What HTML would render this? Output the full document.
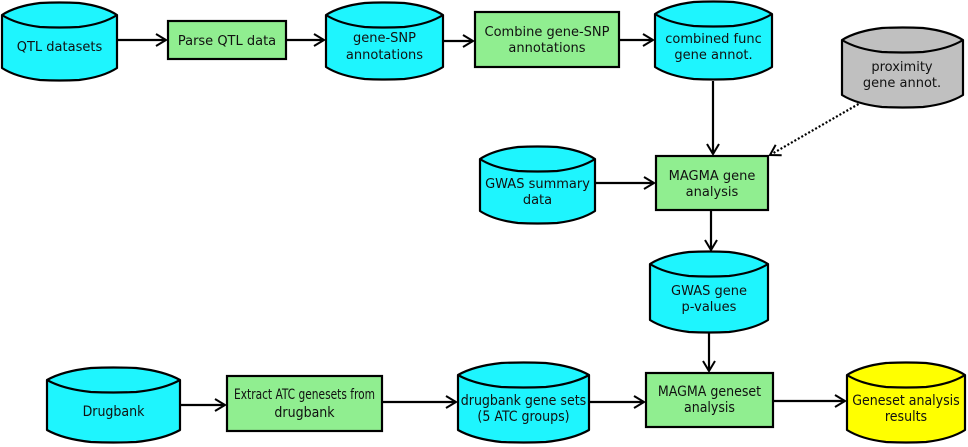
<!DOCTYPE html>
<html><head><meta charset="utf-8"><style>
html,body{margin:0;padding:0;background:#fff;width:968px;height:447px;overflow:hidden}
text{font-family:"DejaVu Sans","Liberation Sans",sans-serif;font-size:13px;fill:#111;text-anchor:middle}
.c text{font-stretch:condensed;font-family:"DejaVu Sans Condensed","DejaVu Sans",sans-serif;font-size:14px}
.cy{fill:#1ef5fe;stroke:#000;stroke-width:2.2;stroke-linejoin:round}
.bx{fill:#90ee90;stroke:#000;stroke-width:2.2}
.ln{stroke:#000;stroke-width:2.2;fill:none;stroke-linejoin:round}
</style></head><body>
<svg id="s" width="968" height="447" viewBox="0 0 968 447" xmlns="http://www.w3.org/2000/svg">
<defs><marker id="a" markerWidth="14" markerHeight="14" refX="11" refY="7" orient="auto" markerUnits="userSpaceOnUse"><path d="M1,1 L11,7 L1,13" fill="none" stroke="#000" stroke-width="2"/></marker></defs>
<g class="ln">
<line x1="117" y1="40" x2="166" y2="40" marker-end="url(#a)"/>
<line x1="286" y1="40" x2="324" y2="40" marker-end="url(#a)"/>
<line x1="443" y1="41" x2="473" y2="41" marker-end="url(#a)"/>
<line x1="619" y1="40" x2="653" y2="40" marker-end="url(#a)"/>
<line x1="713" y1="81" x2="713" y2="154" marker-end="url(#a)"/>
<line x1="862" y1="102" x2="770" y2="155" stroke-dasharray="2,2" marker-end="url(#a)"/>
<line x1="595" y1="183" x2="654" y2="183" marker-end="url(#a)"/>
<line x1="711" y1="210" x2="711" y2="250" marker-end="url(#a)"/>
<line x1="709" y1="332" x2="709" y2="371" marker-end="url(#a)"/>
<line x1="180" y1="405" x2="225" y2="405" marker-end="url(#a)"/>
<line x1="382" y1="402" x2="456" y2="402" marker-end="url(#a)"/>
<line x1="589" y1="402" x2="644" y2="402" marker-end="url(#a)"/>
<line x1="773" y1="401" x2="845" y2="401" marker-end="url(#a)"/>
</g>
<g id="cyls"></g>
<g id="t">
<text x="59.5" y="51">QTL datasets</text>
<rect class="bx" x="168" y="21" width="118" height="38"/>
<text x="227" y="45">Parse QTL data</text>
<text x="384.5" y="42">gene-SNP</text><text x="384.5" y="59">annotations</text>
<rect class="bx" x="475" y="12" width="144" height="55"/>
<text x="547" y="36">Combine gene-SNP</text><text x="547" y="52">annotations</text>
<text x="713.5" y="43">combined func</text><text x="713.5" y="59">gene annot.</text>
<text x="902" y="71">proximity</text><text x="902" y="87">gene annot.</text>
<text x="537.5" y="188">GWAS summary</text><text x="537.5" y="204">data</text>
<rect class="bx" x="656" y="156" width="112" height="54"/>
<text x="712" y="180">MAGMA gene</text><text x="712" y="196">analysis</text>
<text x="709" y="295">GWAS gene</text><text x="709" y="311">p-values</text>
<g class="c">
<text x="113.5" y="416">Drugbank</text>
<rect class="bx" x="227" y="376" width="155" height="55"/>
<text x="304.5" y="399" textLength="141" lengthAdjust="spacingAndGlyphs">Extract ATC genesets from</text><text x="304.5" y="417">drugbank</text>
<text x="523.5" y="405">drugbank gene sets</text><text x="523.5" y="421">(5 ATC groups)</text>
<rect class="bx" x="646" y="373" width="127" height="54"/>
<text x="709.5" y="396">MAGMA geneset</text><text x="709.5" y="412">analysis</text>
<text x="906" y="405">Geneset analysis</text><text x="906" y="421">results</text>
</g>
</g>
</svg>
<script>
var C=[[2,3,117,80,"#1ef5fe"],[326,3,443,79,"#1ef5fe"],[655,2,772,79,"#1ef5fe"],[842,28,963,107,"#c0c0c0"],[480,147,595,223,"#1ef5fe"],[650,252,768,332,"#1ef5fe"],[47,368,180,442,"#1ef5fe"],[458,363,589,442,"#1ef5fe"],[847,363,965,442,"#ffff00"]];
var g=document.getElementById("cyls"),h="";
function cap(x0,x1,y,d){var w=x1-x0,a=x0+w*0.33,b=x1-w*0.33;
return "M"+x0+","+y+" Q"+(x0+w*0.12)+","+(y+d*0.75)+" "+a+","+(y+d)+" Q"+((x0+x1)/2)+","+(y+d*1.08)+" "+b+","+(y+d)+" Q"+(x1-w*0.12)+","+(y+d*0.75)+" "+x1+","+y;}
C.forEach(function(c){var x0=c[0],y0=c[1],x1=c[2],y1=c[3],k=12,w=x1-x0,a=x0+w*0.33,b=x1-w*0.33;
var top="M"+x0+","+(y0+k)+" Q"+(x0+w*0.12)+","+(y0+k*0.25)+" "+a+","+y0+" Q"+((x0+x1)/2)+","+(y0-1)+" "+b+","+y0+" Q"+(x1-w*0.12)+","+(y0+k*0.25)+" "+x1+","+(y0+k);
var bot="L"+x1+","+(y1-k)+" Q"+(x1-w*0.12)+","+(y1-k*0.25)+" "+b+","+y1+" Q"+((x0+x1)/2)+","+(y1+1)+" "+a+","+y1+" Q"+(x0+w*0.12)+","+(y1-k*0.25)+" "+x0+","+(y1-k)+" Z";
h+='<path class="cy" style="fill:'+c[4]+'" d="'+top+" "+bot+'"/>';
h+='<path class="ln" d="'+cap(x0,x1,y0+k,k)+'"/>';});
g.innerHTML=h;
</script>
</body></html>
